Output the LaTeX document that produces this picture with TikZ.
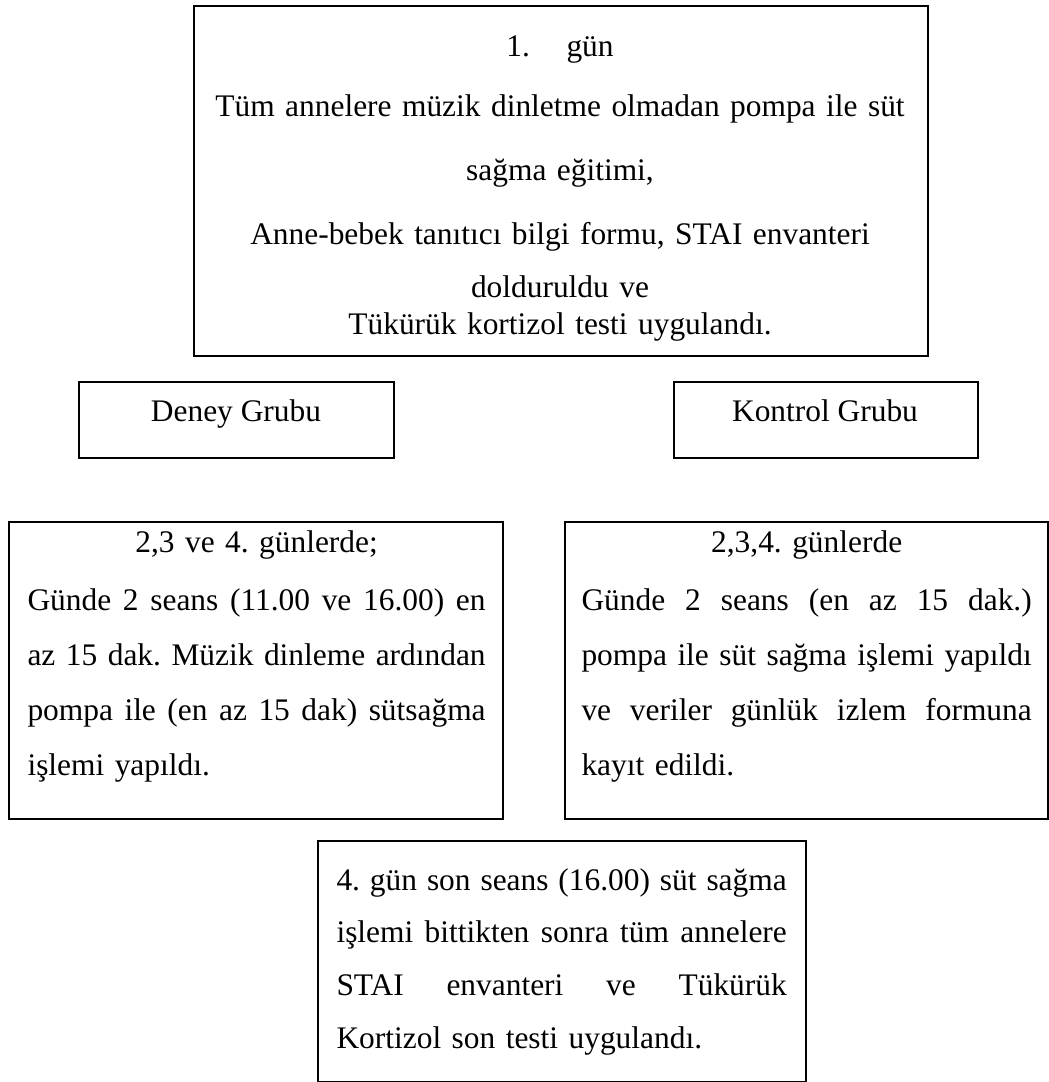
\documentclass[tikz,border=0pt]{standalone}
\usepackage{fontspec}
\setmainfont{Liberation Serif}
\usetikzlibrary{positioning}
\frenchspacing

% iki yana yaslanmis satir
\newcommand{\satir}[2]{\makebox[#1][s]{\spaceskip=2.5pt plus 1fil\relax #2}}

\begin{document}
\begin{tikzpicture}[x=0.382pt, y=-0.382pt,
    kutu/.style={draw, line width=0.9pt, inner sep=0pt, anchor=north west},
    yazi/.style={inner sep=0pt, anchor=base west, align=left,
      font=\fontsize{12pt}{21pt}\selectfont},
  ]
  \useasboundingbox (0,0) rectangle (1049,1082);
  % kutular
  \node[kutu, minimum width=280.4pt, minimum height=133.7pt] (gun1) at (193,5) {};
  \node[kutu, minimum width=120.3pt, minimum height=29pt] (deney) at (78,381) {};
  \node[kutu, minimum width=116.1pt, minimum height=29pt] (kontrol) at (673,381) {};
  \node[kutu, minimum width=188.7pt, minimum height=113.5pt] (deneyis) at (8,521) {};
  \node[kutu, minimum width=184.5pt, minimum height=113.5pt] (kontrolis) at (564,521) {};
  \node[kutu, minimum width=186.4pt, minimum height=92.1pt] (son) at (317,840) {};
  % 1. gun
  \node[yazi, anchor=base, text width=278pt, align=center] (gun1y) at (560,57)
    {1.\hspace{14pt}gün\\[1.9pt]
     Tüm annelere müzik dinletme olmadan pompa ile süt\\[3.4pt]
     sağma eğitimi,\\[3.4pt]
     Anne-bebek tanıtıcı bilgi formu, STAI envanteri\\[-0.8pt]
     dolduruldu ve\\[-6.9pt]
     Tükürük kortizol testi uygulandı.};
  % gruplar
  \node[yazi, anchor=base] (deneyy) at (236,422) {Deney Grubu};
  \node[yazi, anchor=base] (kontroly) at (825,422) {Kontrol Grubu};
  % 2,3,4. gunler
  \node[yazi, text width=175pt] (deneyisy) at (27,552)
    {\makebox[175pt][c]{2,3 ve 4. günlerde;}\\[1.5pt]
     \satir{175pt}{Günde 2 seans (11.00 ve 16.00) en}\\
     \satir{175pt}{az 15 dak. Müzik dinleme ardından}\\
     \satir{175pt}{pompa ile (en az 15 dak) sütsağma}\\
     işlemi yapıldı.};
  \node[yazi, text width=172pt] (kontrolisy) at (581,552)
    {\makebox[172pt][c]{2,3,4. günlerde}\\[1.5pt]
     \satir{172pt}{Günde 2 seans (en az 15 dak.)}\\
     \satir{172pt}{pompa ile süt sağma işlemi yapıldı}\\
     \satir{172pt}{ve veriler günlük izlem formuna}\\
     kayıt edildi.};
  % son test
  \node[yazi, text width=172pt] (sony) at (336,890)
    {\satir{172pt}{4. gün son seans (16.00) süt sağma}\\[-0.8pt]
     \satir{172pt}{işlemi bittikten sonra tüm annelere}\\[-0.8pt]
     \satir{172pt}{STAI envanteri ve Tükürük}\\[-0.8pt]
     Kortizol son testi uygulandı.};
\end{tikzpicture}
\end{document}
